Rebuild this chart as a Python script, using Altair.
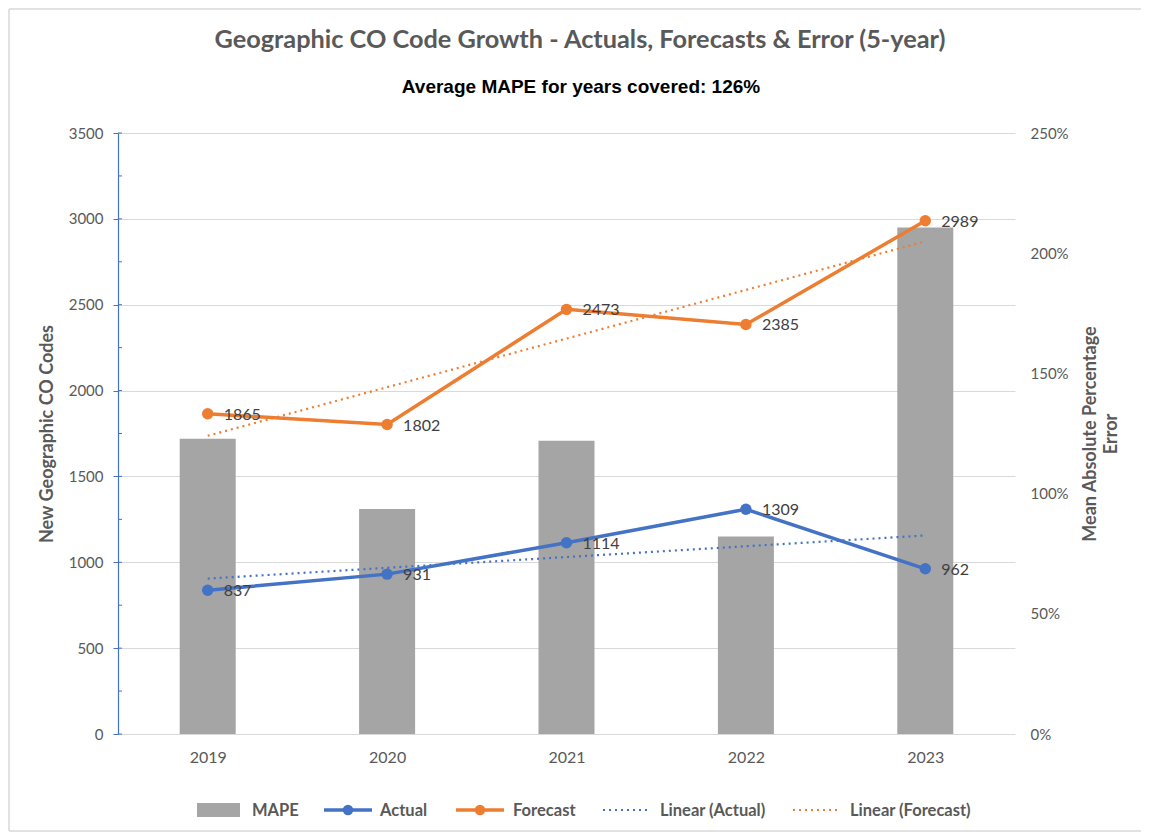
import altair as alt
import pandas as pd

years = [2019, 2020, 2021, 2022, 2023]
actual = [837, 931, 1114, 1309, 962]
forecast = [1865, 1802, 2473, 2385, 2989]
mape = [1.228, 0.936, 1.220, 0.822, 2.107]

left_ticks = [0, 500, 1000, 1500, 2000, 2500, 3000, 3500]
inner_ticks = [0, 250, 500, 750, 1000, 1250, 1500, 1750, 2000, 2250, 2500, 2750, 3000, 3250, 3500]
right_ticks = [0, 0.5, 1.0, 1.5, 2.0, 2.5]

legend_names = ["MAPE", "Actual", "Forecast", "Linear (Actual)", "Linear (Forecast)"]
title_text = "Geographic CO Code Growth - Actuals, Forecasts & Error (5-year)"
subtitle_text = "Average MAPE for years covered: 126%"

df = pd.DataFrame({"year": years, "Actual": actual, "Forecast": forecast, "MAPE": mape})

W, H = 897, 601
FONT = "Lato"
GRAY = "#595959"
BLUE = "#4472C4"
ORANGE = "#ED7D31"
BARC = "#A5A5A5"

x = alt.X(
    "year:Q",
    scale=alt.Scale(domain=[2018.5, 2023.5], nice=False, zero=False, padding=0),
    axis=alt.Axis(values=years, format="d", grid=False, ticks=False, domain=False,
                  labelPadding=15, labelFontSize=16, labelColor=GRAY, labelFont=FONT, title=None),
)

yscale = alt.Scale(domain=[0, 3500], nice=False)
left_axis = alt.Axis(
    orient="left", values=left_ticks, format="d", grid=True, gridColor="#D9D9D9", gridWidth=1,
    domain=True, domainColor=BLUE, domainWidth=1.2, ticks=True, tickColor=BLUE, tickSize=5,
    labelPadding=10, labelFontSize=15, labelColor=GRAY, labelFont=FONT,
    title="New Geographic CO Codes", titleFont=FONT, titleFontSize=18, titleFontWeight="bold",
    titleColor=GRAY, titleAngle=270, titleX=-62, titleY=H / 2, titleAlign="center",
    titleBaseline="bottom",
)
right_axis = alt.Axis(
    orient="right", values=right_ticks, format=".0%", grid=False, ticks=False, domain=False,
    labelPadding=15, labelFontSize=15, labelColor=GRAY, labelFont=FONT,
    title=["Mean Absolute Percentage", "Error"], titleFont=FONT, titleFontSize=18,
    titleFontWeight="bold", titleColor=GRAY, titleAngle=270, titleX=66, titleY=H / 2,
    titleAlign="center", titleBaseline="top", titleLineHeight=21,
)


def yl(field):
    return alt.Y(field, scale=yscale, axis=left_axis)


base = alt.Chart(df)

bars = base.mark_bar(size=56, color=BARC).encode(
    x=x,
    y=alt.Y("MAPE:Q", scale=alt.Scale(domain=[0, 2.5], nice=False), axis=right_axis),
)

inner = alt.Chart(pd.DataFrame({"v": inner_ticks})).mark_rule(color=BLUE, strokeWidth=1).encode(
    x=alt.value(0), x2=alt.value(4), y=yl("v:Q")
)

trend_a = base.transform_regression("year", "Actual").mark_line(
    color=BLUE, strokeDash=[2, 4], strokeWidth=2.2).encode(x=x, y=yl("Actual:Q"))
trend_f = base.transform_regression("year", "Forecast").mark_line(
    color=ORANGE, strokeDash=[2, 4], strokeWidth=2.2).encode(x=x, y=yl("Forecast:Q"))

line_a = base.mark_line(color=BLUE, strokeWidth=3.5).encode(x=x, y=yl("Actual:Q"))
line_f = base.mark_line(color=ORANGE, strokeWidth=3.5).encode(x=x, y=yl("Forecast:Q"))
pts_a = base.mark_circle(color=BLUE, size=130, opacity=1).encode(x=x, y=yl("Actual:Q"))
pts_f = base.mark_circle(color=ORANGE, size=130, opacity=1).encode(x=x, y=yl("Forecast:Q"))
lbl_a = base.mark_text(align="left", baseline="middle", dx=16, dy=1, fontSize=16, font=FONT,
                       color="#404040").encode(x=x, y=yl("Actual:Q"), text="Actual:Q")
lbl_f = base.mark_text(align="left", baseline="middle", dx=16, dy=1, fontSize=16, font=FONT,
                       color="#404040").encode(x=x, y=yl("Forecast:Q"), text="Forecast:Q")

lines = alt.layer(inner, trend_a, trend_f, line_a, line_f, pts_a, pts_f, lbl_a, lbl_f)

one = pd.DataFrame({"a": [0]})

# titles as text marks (plot-relative pixel placement)
titles = [
    alt.Chart(one).mark_text(align="center", baseline="middle", font=FONT, fontSize=25.3,
                             fontWeight="bold", color=GRAY, text=title_text).encode(
        x=alt.value(462), y=alt.value(-93)),
    alt.Chart(one).mark_text(align="center", baseline="middle", font="Liberation Sans",
                             fontSize=19, fontWeight="bold", color="#000000",
                             text=subtitle_text).encode(
        x=alt.value(463), y=alt.value(-46)),
]

# manual legend
LY = 677
leg = []
leg.append(alt.Chart(one).mark_rect(color=BARC).encode(
    x=alt.value(79), x2=alt.value(122), y=alt.value(LY - 7), y2=alt.value(LY + 7)))
sym = [
    (206, 254, BLUE, None, True),
    (338, 386, ORANGE, None, True),
    (485, 532, BLUE, [2, 4], False),
    (675, 722, ORANGE, [2, 4], False),
]
for x0, x1, c, dash, dot in sym:
    kw = dict(color=c, strokeWidth=3.5 if dash is None else 2.2)
    if dash is not None:
        kw["strokeDash"] = dash
    leg.append(alt.Chart(one).mark_rule(**kw).encode(
        x=alt.value(x0), x2=alt.value(x1), y=alt.value(LY)))
    if dot:
        leg.append(alt.Chart(one).mark_circle(color=c, size=110, opacity=1).encode(
            x=alt.value((x0 + x1) / 2), y=alt.value(LY)))
text_x = [134, 262, 395, 542, 732]
for name, tx in zip(legend_names, text_x):
    leg.append(alt.Chart(one).mark_text(align="left", baseline="middle", fontSize=16.5, font=FONT,
                                        fontWeight="bold", color=GRAY, text=name).encode(
        x=alt.value(tx), y=alt.value(LY + 1)))

# frame lines
frame = [
    alt.Chart(one).mark_rule(color="#D9D9D9", strokeWidth=1.5).encode(
        x=alt.value(-109), x2=alt.value(-109), y=alt.value(-124), y2=alt.value(H + 97)),
    alt.Chart(one).mark_rule(color="#D9D9D9", strokeWidth=1.5).encode(
        x=alt.value(-109), x2=alt.value(W + 126), y=alt.value(-124)),
    alt.Chart(one).mark_rule(color="#D9D9D9", strokeWidth=1.5).encode(
        x=alt.value(-109), x2=alt.value(W + 126), y=alt.value(H + 97)),
]

extra = alt.layer(*titles, *leg, *frame)

chart = alt.layer(bars, lines, extra).resolve_scale(y="independent").properties(
    width=W, height=H,
    autosize=alt.AutoSizeParams(type="none"),
    padding={"left": 110, "top": 125, "right": 126, "bottom": 98},
).configure_view(stroke=None)

chart.save("out.html", embed_options={"renderer": "svg", "actions": False})
